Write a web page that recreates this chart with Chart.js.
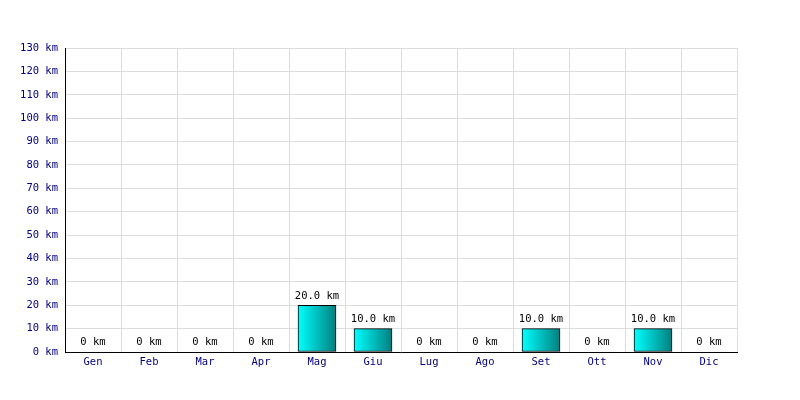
<!DOCTYPE html>
<html lang="it">
<head>
  <meta charset="UTF-8">
  <script src="https://cdn.jsdelivr.net/npm/chart.js"></script>
  <title>Km per mese</title>
  <style>
    body { margin: 0; padding: 0; background: #fff; }
  </style>
</head>
<body>
  <canvas id="kmChart" width="800" height="400"></canvas>
  <script>
    const months = ['Gen', 'Feb', 'Mar', 'Apr', 'Mag', 'Giu', 'Lug', 'Ago', 'Set', 'Ott', 'Nov', 'Dic'];
    const kmValues = [0, 0, 0, 0, 20, 10, 0, 0, 10, 0, 10, 0];
    const yMax = 130;
    const yStep = 10;

    const monoFont = { family: '"DejaVu Sans Mono", monospace', size: 10.5 };

    function fmtKm(v) {
      return v === 0 ? '0 km' : v.toFixed(1) + ' km';
    }

    // gradiente orizzontale per ogni barra (ciano -> verde acqua)
    function barGradient(context) {
      const chart = context.chart;
      const xs = chart.scales.x;
      if (!xs || context.dataIndex === undefined) return '#00cccc';
      const cx = xs.getPixelForValue(context.dataIndex);
      if (!isFinite(cx)) return '#00cccc';
      const g = chart.ctx.createLinearGradient(cx - 19, 0, cx + 19, 0);
      g.addColorStop(0, '#00ffff');
      g.addColorStop(1, '#008080');
      return g;
    }

    const valueLabels = {
      id: 'valueLabels',
      afterDatasetsDraw(chart) {
        const ctx = chart.ctx;
        const meta = chart.getDatasetMeta(0);
        ctx.save();
        ctx.font = '10.5px "DejaVu Sans Mono", monospace';
        ctx.fillStyle = '#000';
        ctx.textAlign = 'center';
        ctx.textBaseline = 'bottom';
        meta.data.forEach((bar, i) => {
          ctx.fillText(fmtKm(kmValues[i]), bar.x, bar.y - 4);
        });
        ctx.restore();
      }
    };

    new Chart(document.getElementById('kmChart'), {
      type: 'bar',
      data: {
        labels: months,
        datasets: [{
          data: kmValues,
          backgroundColor: barGradient,
          borderColor: '#000',
          borderWidth: 1,
          borderSkipped: false,
          barThickness: 38
        }]
      },
      options: {
        responsive: false,
        animation: false,
        layout: { padding: { top: 48, right: 63, left: 0, bottom: 0 } },
        plugins: {
          legend: { display: false },
          tooltip: { enabled: false }
        },
        scales: {
          x: {
            grid: { color: '#dddddd', drawTicks: false, offset: true },
            border: { color: '#000', width: 1 },
            ticks: { color: '#000080', font: monoFont, padding: 4 },
            afterFit(scale) { scale.height = 48; }
          },
          y: {
            min: 0,
            max: yMax,
            grid: { color: '#dddddd', drawTicks: false },
            border: { color: '#000', width: 1 },
            ticks: {
              stepSize: yStep,
              color: '#000080',
              font: monoFont,
              padding: 7,
              callback: v => v + ' km'
            },
            afterFit(scale) { scale.width = 65; }
          }
        }
      },
      plugins: [valueLabels]
    });
  </script>
</body>
</html>
